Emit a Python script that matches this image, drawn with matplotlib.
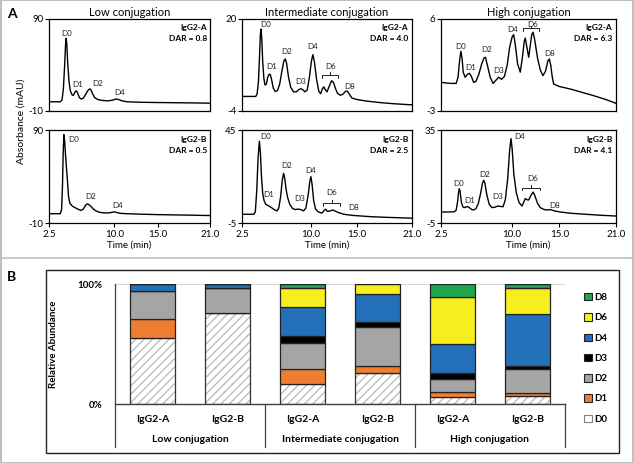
import matplotlib.pyplot as plt
from matplotlib.patches import Rectangle, Patch
from matplotlib.lines import Line2D

plt.rcParams['font.family'] = ['Lato', 'DejaVu Sans']

# ---- panel A: chromatogram traces (time min, absorbance mAU)
low_a = [(2.5, 0), (3.8, 0), (4.0, 2), (4.15, 14), (4.3, 40), (4.4, 62), (4.47, 69), (4.55, 62),
         (4.65, 42), (4.8, 22), (4.95, 12), (5.15, 7.5), (5.3, 7), (5.45, 10), (5.6, 12), (5.72, 11),
         (5.85, 8), (6.0, 4.5), (6.2, 3), (6.45, 4), (6.7, 8), (6.95, 12), (7.15, 14), (7.3, 13.5),
         (7.5, 9), (7.75, 4.5), (8.1, 2.5), (8.6, 1.5), (9.3, 1), (9.8, 1.8), (10.2, 3), (10.5, 2.5),
         (10.9, 1), (11.5, 0), (13, -0.5), (15, -0.8), (17, -1), (19, -1.2), (21, -1.5)]
low_b = [(2.5, 0), (3.8, 0), (3.95, 5), (4.05, 30), (4.13, 65), (4.21, 85), (4.3, 78), (4.42, 60),
         (4.6, 38), (4.75, 18), (4.9, 11), (5.2, 8), (5.5, 6.5), (5.9, 4.5), (6.2, 3.5), (6.45, 5),
         (6.7, 9), (6.87, 10.5), (7.05, 10), (7.3, 8), (7.6, 5), (7.9, 3), (8.3, 1.5), (8.9, 0.8),
         (9.5, 1), (9.9, 1.8), (10.1, 1.8), (10.4, 1), (10.8, 0.3), (11.5, 0), (13, -0.5), (15, -1),
         (17, -1.3), (19, -1.6), (21, -2)]
mid_a = [(2.5, -0.2), (4.0, -0.2), (4.15, 0.5), (4.3, 4), (4.42, 11), (4.5, 16), (4.57, 17.4),
         (4.65, 15), (4.75, 9), (4.88, 4.5), (5.0, 2.8), (5.15, 3), (5.3, 4.8), (5.45, 5.6), (5.58, 5.5),
         (5.72, 4.2), (5.9, 2), (6.1, 1.1), (6.35, 1.3), (6.6, 3), (6.85, 6.5), (7.05, 9), (7.2, 9.6),
         (7.35, 8.5), (7.55, 5), (7.8, 2.2), (8.1, 1), (8.4, 1), (8.7, 1.6), (8.9, 1.8), (9.1, 1.6),
         (9.35, 1.0), (9.6, 1.5), (9.85, 5), (10.05, 9), (10.22, 10.7), (10.4, 8.5), (10.6, 4.5),
         (10.85, 1.2), (11.05, 0.5), (11.25, 1.8), (11.4, 2.3), (11.55, 1.6), (11.75, 1.0), (12.0, 2.5),
         (12.25, 3.9), (12.45, 3.5), (12.65, 2), (12.9, 0.6), (13.2, 0.1), (13.5, 0.4), (13.75, 1.1),
         (13.95, 1.2), (14.15, 0.5), (14.45, -0.6), (15.0, -1.0), (16.0, -1.4), (17.5, -1.8),
         (19.0, -2.1), (21.0, -2.4)]
mid_b = [(2.5, -0.3), (3.8, -0.3), (3.95, 1), (4.1, 12), (4.25, 30), (4.39, 39), (4.5, 33), (4.62, 20),
         (4.75, 11), (4.9, 7), (5.1, 5), (5.4, 4.2), (5.7, 3.3), (6.0, 2.2), (6.3, 1.5), (6.5, 3),
         (6.7, 9), (6.88, 18), (7.03, 21.7), (7.15, 19), (7.3, 13), (7.47, 8.6), (7.7, 5), (8.0, 2.8),
         (8.3, 2.2), (8.6, 2.5), (8.9, 2.2), (9.2, 1.5), (9.45, 3), (9.7, 10), (9.87, 17), (10.0, 19.9),
         (10.12, 16), (10.3, 7), (10.5, 2.5), (10.8, 1), (11.2, 0.3), (11.45, 1.8), (11.6, 2.4),
         (11.8, 1.2), (12.05, 1.4), (12.35, 2), (12.6, 1.5), (13.0, 0.6), (13.6, -0.3), (14.5, -0.9),
         (16.5, -1.6), (18.5, -2.0), (21, -2.4)]
high_a = [(2.5, -0.2), (3.5, -0.3), (4.1, -0.3), (4.3, 0.3), (4.45, 1.8), (4.6, 2.84), (4.72, 2.2),
          (4.85, 0.8), (5.05, 0.3), (5.3, 0.6), (5.5, 0.69), (5.7, 0.4), (5.95, -0.2), (6.2, -0.1),
          (6.5, 0.6), (6.8, 1.6), (7.05, 2.2), (7.2, 2.25), (7.4, 1.5), (7.7, 0.3), (8.0, -0.3),
          (8.3, 0.0), (8.6, 0.3), (8.9, 0.1), (9.2, 0.37), (9.5, 1.5), (9.75, 3.2), (10.0, 4.2),
          (10.18, 4.47), (10.35, 3.5), (10.6, 1.6), (10.88, 0.8), (11.1, 2.2), (11.3, 3.8), (11.41, 4.14),
          (11.55, 3.4), (11.77, 2.25), (11.95, 3.5), (12.1, 4.5), (12.23, 4.7), (12.4, 4.0), (12.7, 2.2),
          (13.0, 1.0), (13.28, 0.46), (13.55, 0.9), (13.8, 1.9), (13.95, 2.09), (14.1, 1.5), (14.25, 0.4),
          (14.41, -0.36), (15.0, -0.6), (16.17, -0.85), (17.5, -1.2), (18.64, -1.5), (20, -1.9), (21, -2.25)]
high_b = [(2.5, -0.3), (3.9, -0.2), (4.1, 0.5), (4.25, 4), (4.35, 8), (4.43, 9.8), (4.52, 8.5),
          (4.65, 4), (4.8, 2), (4.95, 1.6), (5.15, 1.9), (5.32, 2.05), (5.5, 1.6), (5.75, 0.8),
          (5.95, 0.6), (6.2, 1.2), (6.45, 3.5), (6.7, 8), (6.88, 12), (7.01, 13.4), (7.15, 12), (7.35, 7),
          (7.6, 3), (7.89, 1.6), (8.2, 1.8), (8.5, 2.3), (8.8, 2.1), (9.06, 2.0), (9.3, 5), (9.55, 14),
          (9.75, 26), (9.9, 31.3), (10.02, 27), (10.2, 16), (10.46, 8.05), (10.75, 3.8), (11.06, 2.3),
          (11.25, 4), (11.41, 5.5), (11.6, 5), (11.77, 4.9), (12.0, 6.8), (12.23, 8.3), (12.4, 7),
          (12.7, 3.5), (13.0, 1.6), (13.4, 0.8), (13.8, 0.6), (14.05, 0.8), (14.4, 0.3), (15.0, -0.2),
          (16.17, -0.8), (18, -1.3), (19.5, -1.7), (21, -2.0)]

y_limits = {'low_a': (-10, 90), 'low_b': (-10, 90), 'mid_a': (-4, 20), 'mid_b': (-5, 45),
            'high_a': (-3, 6), 'high_b': (-5, 35)}
dar = {'low_a': '0.8', 'low_b': '0.5', 'mid_a': '4.0', 'mid_b': '2.5', 'high_a': '6.3', 'high_b': '4.1'}
time_ticks = [2.5, 10, 15, 21]
time_labels = ['2.5', '10.0', '15.0', '21.0']
col_titles = ['Low conjugation', 'Intermediate conjugation', 'High conjugation']

# peak labels (name, time, absorbance) and D6 brackets (t0, t1, level)
peak_labels = {
    'low_a': [('D0', 4.5, 74), ('D1', 5.83, 18.6), ('D2', 8.07, 20), ('D4', 10.65, 10)],
    'low_b': [('D0', 5.37, 80), ('D2', 7.3, 19), ('D4', 10.4, 9)],
    'mid_a': [('D0', 5.03, 18.5), ('D1', 5.69, 7.7), ('D2', 7.4, 11.4), ('D3', 8.92, 3.7),
              ('D4', 10.22, 12.9), ('D6', 12.1, 7.7), ('D8', 14.2, 2.5)],
    'mid_b': [('D0', 5.03, 41.4), ('D1', 5.4, 10.4), ('D2', 7.32, 26), ('D3', 8.78, 8.1),
              ('D4', 10.0, 23.3), ('D6', 12.2, 11.3), ('D8', 14.65, 3.2)],
    'high_a': [('D0', 4.54, 3.3), ('D1', 5.67, 1.27), ('D2', 7.36, 2.97), ('D3', 8.6, 1.0),
               ('D4', 10.1, 5.0), ('D6', 12.23, 5.5), ('D8', 13.99, 2.64)],
    'high_b': [('D0', 4.37, 12.1), ('D1', 5.53, 4.5), ('D2', 7.08, 15.9), ('D3', 8.5, 6.6),
               ('D4', 10.82, 32.4), ('D6', 12.23, 14), ('D8', 14.48, 2.7)],
}
brackets = {'mid_a': (11.2, 13.0, 5.4), 'mid_b': (11.3, 13.2, 5.6),
            'high_a': (11.17, 12.83, 5.09), 'high_b': (11.06, 13.0, 10.2)}

# ---- panel B: relative abundance (%)
samples = ['IgG2-A', 'IgG2-B', 'IgG2-A', 'IgG2-B', 'IgG2-A', 'IgG2-B']
groups = ['Low conjugation', 'Intermediate conjugation', 'High conjugation']
species = ['D0', 'D1', 'D2', 'D3', 'D4', 'D6', 'D8']
d0 = [55, 76, 17, 26, 6, 6.5]
d1 = [16, 0, 12, 6, 4, 2.5]
d2 = [23, 21, 22, 32, 11, 20]
d3 = [0, 0, 6, 4, 5, 3]
d4 = [6, 3, 24, 24, 24, 43]
d6 = [0, 0, 16, 8, 39, 22]
d8 = [0, 0, 3, 0, 11, 3]
colors = ['white', '#ED7D31', '#A5A5A5', '#000000', '#2470B8', '#F7EE1E', '#1FA54C']

W, H = 634, 463


def box(x0, y0, x1, y1):
    return [x0 / W, 1 - y1 / H, (x1 - x0) / W, (y1 - y0) / H]


fig = plt.figure(figsize=(W / 100, H / 100), dpi=100)

cols = [(49, 210), (242, 412), (441, 616)]
rows = [(19, 111), (130, 223)]
traces = {'low_a': low_a, 'low_b': low_b, 'mid_a': mid_a, 'mid_b': mid_b,
          'high_a': high_a, 'high_b': high_b}
for c, level in enumerate(['low', 'mid', 'high']):
    for r, ab in enumerate(['a', 'b']):
        key = f'{level}_{ab}'
        ax = fig.add_axes(box(cols[c][0], rows[r][0], cols[c][1], rows[r][1]))
        t, v = zip(*traces[key])
        ax.plot(t, v, color='black', lw=1.0)
        lo, hi = y_limits[key]
        ax.set_xlim(2.5, 21)
        ax.set_ylim(lo, hi)
        ax.set_yticks([lo, hi])
        ax.set_yticklabels([str(lo), str(hi)], fontsize=7)
        ax.tick_params(axis='y', length=3, pad=1)
        for s in ax.spines.values():
            s.set_linewidth(0.9)
        if r == 1:
            ax.set_xticks(time_ticks)
            ax.set_xticklabels(time_labels, fontsize=7)
            ax.tick_params(axis='x', length=3, pad=2)
            ax.set_xlabel('Time (min)', fontsize=7, labelpad=1)
        else:
            ax.set_xticks([])
            ax.set_title(col_titles[c], fontsize=8, pad=2)
        for name, px, py in peak_labels[key]:
            ax.text(px, py, name, fontsize=5.8, ha='center', va='center', color='#222222')
        if key in brackets:
            t0, t1, yb = brackets[key]
            d = 0.03 * (hi - lo)
            ax.plot([t0, t0, t1, t1], [yb - d, yb, yb, yb - d], color='black', lw=0.6)
            ax.plot([(t0 + t1) / 2] * 2, [yb, yb + d], color='black', lw=0.6)
        ya = (0.913, 0.793) if r == 0 else (0.9, 0.78)
        ax.text(0.98, ya[0], f'IgG2-{ab.upper()}', transform=ax.transAxes, ha='right', va='center',
                fontsize=6, fontweight='bold')
        ax.text(0.98, ya[1], f'DAR = {dar[key]}', transform=ax.transAxes, ha='right', va='center',
                fontsize=6, fontweight='bold')

fig.text(12 / W, 1 - 14 / H, 'A', fontsize=10, fontweight='bold', ha='center', va='center')
fig.text(21 / W, 1 - 121 / H, 'Absorbance (mAU)', fontsize=7.5, rotation=90, ha='center', va='center')

# ---- panel B
fig.text(12 / W, 1 - 277 / H, 'B', fontsize=10, fontweight='bold', ha='center', va='center')
axb = fig.add_axes(box(115, 284, 565, 404))
x = list(range(len(samples)))
bottom = [0] * len(samples)
handles = []
for name, vals, col in zip(species, [d0, d1, d2, d3, d4, d6, d8], colors):
    if name == 'D0':
        axb.bar(x, vals, width=0.61, bottom=bottom, color='white', edgecolor='#BDBDBD', lw=0, hatch='////')
        axb.bar(x, vals, width=0.61, bottom=bottom, fill=False, edgecolor='#333333', lw=0.9)
        handles.append(Patch(facecolor='white', edgecolor='#808080', lw=0.8))
    else:
        axb.bar(x, vals, width=0.61, bottom=bottom, color=col, edgecolor='#222222', lw=0.9)
        handles.append(Patch(facecolor=col, edgecolor='#222222', lw=0.8))
    bottom = [b + v for b, v in zip(bottom, vals)]

axb.set_xlim(-0.5, 5.5)
axb.set_ylim(0, 100)
for s in axb.spines.values():
    s.set_visible(False)
axb.set_xticks([])
axb.set_yticks([0, 100])
axb.set_yticklabels(['0%', '100%'], fontsize=7, fontweight='bold')
axb.tick_params(axis='y', length=0, pad=9)
axb.axhline(100, color='#D9D9D9', lw=0.8, zorder=0)
axb.axhline(0, color='#404040', lw=1.0, zorder=3, clip_on=False)
axb.set_ylabel('Relative Abundance', fontsize=7, fontweight='bold', labelpad=14)
for xs in [-0.5, 1.5, 3.5, 5.5]:
    top = 100 if xs == -0.5 else 0
    axb.plot([xs, xs], [top, -35.8], color='#404040', lw=0.9, clip_on=False)
for i, s in enumerate(samples):
    axb.text(i, -13.3, s, ha='center', va='center', fontsize=7.5, fontweight='bold')
for g, name in enumerate(groups):
    axb.text(2 * g + 0.5, -30, name, ha='center', va='center', fontsize=7.5, fontweight='bold')

fig.legend(handles[::-1], species[::-1], loc='upper left', bbox_to_anchor=(584 / W, 1 - 293 / H),
           frameon=False, borderpad=0, borderaxespad=0, handlelength=0.8, handleheight=0.8,
           handletextpad=0.3, labelspacing=1.15, prop={'weight': 'bold', 'size': 7})

# frames
fig.patches.append(Rectangle((46 / W, 1 - 453 / H), (619 - 46) / W, (453 - 270) / H,
                             transform=fig.transFigure, fill=False, edgecolor='#222222', lw=1.0))
fig.patches.append(Rectangle((0.001, 0.001), 0.998, 0.998, transform=fig.transFigure, fill=False,
                             edgecolor='#C0C0C0', lw=1.5))
fig.lines.append(Line2D([0, 1], [1 - 258 / H] * 2, transform=fig.transFigure, color='#C0C0C0', lw=1.2))

fig.savefig('out.png', dpi=100)
